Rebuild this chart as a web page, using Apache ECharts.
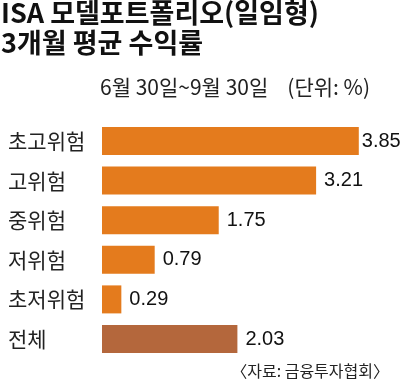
<!DOCTYPE html>
<html><head><meta charset="utf-8">
<script src="https://cdn.jsdelivr.net/npm/echarts@6/dist/echarts.min.js"></script>
<style>html,body{margin:0;padding:0;background:#fff}#c{width:402px;height:382px}</style>
</head><body><div id="c"></div>
<script>
var categories = ['초고위험', '고위험', '중위험', '저위험', '초저위험', '전체'];
var values = [3.85, 3.21, 1.75, 0.79, 0.29, 2.03];
var titleLines = ['ISA 모델포트폴리오(일임형)', '3개월 평균 수익률'];
var subtitle = '6월 30일~9월 30일';
var unitText = '(단위: %)';
var sourceText = '〈자료: 금융투자협회〉';

var FONT = '"Noto Sans CJK KR", "Noto Sans", sans-serif';
var NUMFONT = '"Liberation Sans", "Noto Sans CJK KR", sans-serif';
var chart = echarts.init(document.getElementById('c'));
var data = values.map(function (v, i) {
  var item = { value: v, itemStyle: { color: i === values.length - 1 ? '#b4673c' : '#e47b1d' } };
  if (i === 0) item.label = { distance: 3 };
  return item;
});
chart.setOption({
  animation: false,
  backgroundColor: '#fff',
  grid: { left: 102, right: 33.2, top: 121.2, bottom: 23.2 },
  xAxis: { type: 'value', min: 0, max: 4, show: false },
  yAxis: {
    type: 'category', data: categories, inverse: true,
    axisLine: { show: false }, axisTick: { show: false },
    axisLabel: { align: 'left', margin: 94, fontSize: 21, color: '#222', fontFamily: FONT }
  },
  series: [{
    type: 'bar', data: data, barWidth: 28,
    label: { show: true, position: 'right', distance: 8, fontSize: 20, color: '#111', fontFamily: NUMFONT,
      formatter: function (p) { return p.value.toFixed(2); } }
  }],
  graphic: [
    { type: 'text', x: 1, y: 13, style: { text: titleLines[0], font: 'bold 27px ' + FONT, fill: '#111', textVerticalAlign: 'middle' } },
    { type: 'text', x: 1, y: 43, style: { text: titleLines[1], font: 'bold 27px ' + FONT, fill: '#111', textVerticalAlign: 'middle' } },
    { type: 'text', x: 100, y: 87, style: { text: subtitle, font: '21px ' + FONT, fill: '#222', textVerticalAlign: 'middle' } },
    { type: 'text', x: 370, y: 87, style: { text: unitText, font: '21px ' + FONT, fill: '#222', textAlign: 'right', textVerticalAlign: 'middle' } },
    { type: 'text', x: 389, y: 371, style: { text: sourceText, font: '16px ' + FONT, fill: '#222', textAlign: 'right', textVerticalAlign: 'middle' } }
  ]
});
</script></body></html>
